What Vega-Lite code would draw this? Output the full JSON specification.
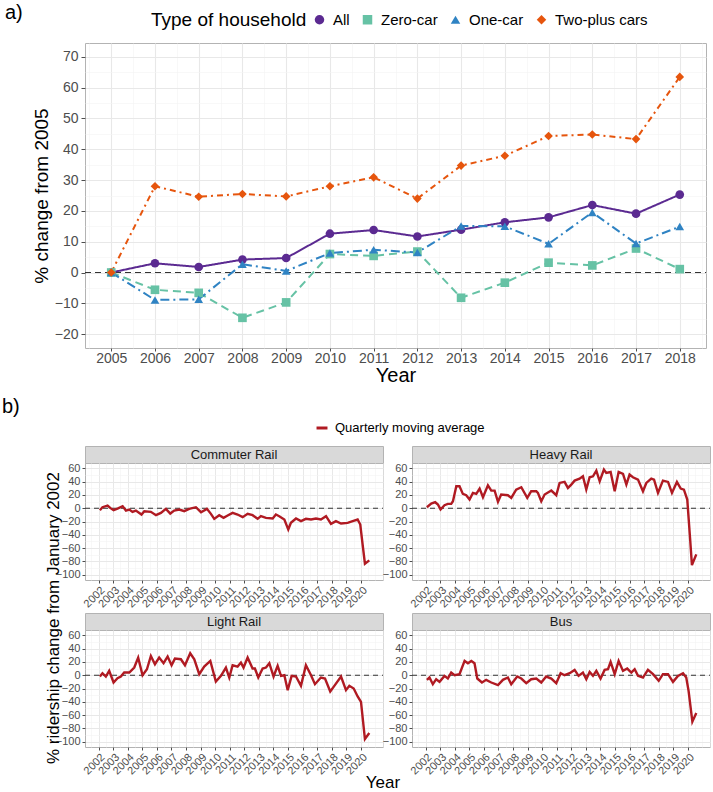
{
  "$schema": "https://vega.github.io/schema/vega-lite/v6.json",
  "padding": {"left": 2, "top": 2, "right": 2, "bottom": 0},
  "config": {
    "font": "Liberation Sans",
    "view": {"stroke": "#B3B3B3", "strokeWidth": 1},
    "axis": {"domain": false, "labelColor": "#4D4D4D", "tickColor": "#4D4D4D", "titleFontWeight": "normal", "titleColor": "#000000", "gridColor": "#E8E8E8", "labelOverlap": false},
    "title": {"fontWeight": "normal", "color": "#000000"},
    "legend": {"labelColor": "#000000", "titleFontWeight": "normal", "titleColor": "#000000"}
  },
  "datasets": {
    "households": [
      {"year": 2005, "type": "All", "value": 0}, {"year": 2006, "type": "All", "value": 3.0}, {"year": 2007, "type": "All", "value": 1.8}, {"year": 2008, "type": "All", "value": 4.2}, {"year": 2009, "type": "All", "value": 4.7}, {"year": 2010, "type": "All", "value": 12.6}, {"year": 2011, "type": "All", "value": 13.8}, {"year": 2012, "type": "All", "value": 11.7}, {"year": 2013, "type": "All", "value": 13.9}, {"year": 2014, "type": "All", "value": 16.3}, {"year": 2015, "type": "All", "value": 17.9}, {"year": 2016, "type": "All", "value": 21.9}, {"year": 2017, "type": "All", "value": 19.1}, {"year": 2018, "type": "All", "value": 25.3},
      {"year": 2005, "type": "Zero-car", "value": 0}, {"year": 2006, "type": "Zero-car", "value": -5.6}, {"year": 2007, "type": "Zero-car", "value": -6.6}, {"year": 2008, "type": "Zero-car", "value": -14.7}, {"year": 2009, "type": "Zero-car", "value": -9.7}, {"year": 2010, "type": "Zero-car", "value": 6.0}, {"year": 2011, "type": "Zero-car", "value": 5.4}, {"year": 2012, "type": "Zero-car", "value": 6.8}, {"year": 2013, "type": "Zero-car", "value": -8.2}, {"year": 2014, "type": "Zero-car", "value": -3.3}, {"year": 2015, "type": "Zero-car", "value": 3.2}, {"year": 2016, "type": "Zero-car", "value": 2.3}, {"year": 2017, "type": "Zero-car", "value": 7.8}, {"year": 2018, "type": "Zero-car", "value": 1.1},
      {"year": 2005, "type": "One-car", "value": 0}, {"year": 2006, "type": "One-car", "value": -8.9}, {"year": 2007, "type": "One-car", "value": -8.7}, {"year": 2008, "type": "One-car", "value": 2.7}, {"year": 2009, "type": "One-car", "value": 0.5}, {"year": 2010, "type": "One-car", "value": 6.3}, {"year": 2011, "type": "One-car", "value": 7.4}, {"year": 2012, "type": "One-car", "value": 6.5}, {"year": 2013, "type": "One-car", "value": 15.1}, {"year": 2014, "type": "One-car", "value": 15.0}, {"year": 2015, "type": "One-car", "value": 9.3}, {"year": 2016, "type": "One-car", "value": 19.5}, {"year": 2017, "type": "One-car", "value": 9.4}, {"year": 2018, "type": "One-car", "value": 14.9},
      {"year": 2005, "type": "Two-plus cars", "value": 0}, {"year": 2006, "type": "Two-plus cars", "value": 28.0}, {"year": 2007, "type": "Two-plus cars", "value": 24.6}, {"year": 2008, "type": "Two-plus cars", "value": 25.5}, {"year": 2009, "type": "Two-plus cars", "value": 24.7}, {"year": 2010, "type": "Two-plus cars", "value": 28.0}, {"year": 2011, "type": "Two-plus cars", "value": 30.9}, {"year": 2012, "type": "Two-plus cars", "value": 24.0}, {"year": 2013, "type": "Two-plus cars", "value": 34.7}, {"year": 2014, "type": "Two-plus cars", "value": 37.9}, {"year": 2015, "type": "Two-plus cars", "value": 44.3}, {"year": 2016, "type": "Two-plus cars", "value": 44.8}, {"year": 2017, "type": "Two-plus cars", "value": 43.3}, {"year": 2018, "type": "Two-plus cars", "value": 63.5}
    ],
    "ridership": [
      {"mode": "Commuter Rail", "t": 2002.09, "v": -3}, {"mode": "Commuter Rail", "t": 2002.27, "v": 1.5}, {"mode": "Commuter Rail", "t": 2002.62, "v": 4}, {"mode": "Commuter Rail", "t": 2002.8, "v": 0.5}, {"mode": "Commuter Rail", "t": 2003.03, "v": -3}, {"mode": "Commuter Rail", "t": 2003.3, "v": -0.5}, {"mode": "Commuter Rail", "t": 2003.65, "v": 3}, {"mode": "Commuter Rail", "t": 2003.88, "v": -3.5}, {"mode": "Commuter Rail", "t": 2004.11, "v": -2}, {"mode": "Commuter Rail", "t": 2004.33, "v": -5.5}, {"mode": "Commuter Rail", "t": 2004.56, "v": -3.5}, {"mode": "Commuter Rail", "t": 2004.95, "v": -9.5}, {"mode": "Commuter Rail", "t": 2005.14, "v": -4.5}, {"mode": "Commuter Rail", "t": 2005.59, "v": -5.5}, {"mode": "Commuter Rail", "t": 2005.94, "v": -10.5}, {"mode": "Commuter Rail", "t": 2006.28, "v": -7}, {"mode": "Commuter Rail", "t": 2006.62, "v": -1}, {"mode": "Commuter Rail", "t": 2006.92, "v": -8}, {"mode": "Commuter Rail", "t": 2007.19, "v": -3.5}, {"mode": "Commuter Rail", "t": 2007.54, "v": -2}, {"mode": "Commuter Rail", "t": 2007.88, "v": -4.5}, {"mode": "Commuter Rail", "t": 2008.22, "v": -1}, {"mode": "Commuter Rail", "t": 2008.68, "v": 1.5}, {"mode": "Commuter Rail", "t": 2009.03, "v": -6}, {"mode": "Commuter Rail", "t": 2009.44, "v": -1}, {"mode": "Commuter Rail", "t": 2009.71, "v": -8.5}, {"mode": "Commuter Rail", "t": 2009.94, "v": -16}, {"mode": "Commuter Rail", "t": 2010.28, "v": -10.5}, {"mode": "Commuter Rail", "t": 2010.58, "v": -14.5}, {"mode": "Commuter Rail", "t": 2010.86, "v": -11}, {"mode": "Commuter Rail", "t": 2011.2, "v": -7}, {"mode": "Commuter Rail", "t": 2011.54, "v": -9.5}, {"mode": "Commuter Rail", "t": 2011.89, "v": -13.5}, {"mode": "Commuter Rail", "t": 2012.23, "v": -8.5}, {"mode": "Commuter Rail", "t": 2012.57, "v": -10.5}, {"mode": "Commuter Rail", "t": 2012.92, "v": -16}, {"mode": "Commuter Rail", "t": 2013.14, "v": -12}, {"mode": "Commuter Rail", "t": 2013.49, "v": -14.5}, {"mode": "Commuter Rail", "t": 2013.95, "v": -15.5}, {"mode": "Commuter Rail", "t": 2014.17, "v": -9.5}, {"mode": "Commuter Rail", "t": 2014.4, "v": -12}, {"mode": "Commuter Rail", "t": 2014.75, "v": -17}, {"mode": "Commuter Rail", "t": 2015.02, "v": -32}, {"mode": "Commuter Rail", "t": 2015.2, "v": -22}, {"mode": "Commuter Rail", "t": 2015.55, "v": -15.5}, {"mode": "Commuter Rail", "t": 2015.89, "v": -19.5}, {"mode": "Commuter Rail", "t": 2016.23, "v": -16}, {"mode": "Commuter Rail", "t": 2016.58, "v": -17}, {"mode": "Commuter Rail", "t": 2016.92, "v": -15.5}, {"mode": "Commuter Rail", "t": 2017.26, "v": -17}, {"mode": "Commuter Rail", "t": 2017.61, "v": -12}, {"mode": "Commuter Rail", "t": 2017.95, "v": -23.5}, {"mode": "Commuter Rail", "t": 2018.29, "v": -19.5}, {"mode": "Commuter Rail", "t": 2018.64, "v": -23}, {"mode": "Commuter Rail", "t": 2019.09, "v": -22}, {"mode": "Commuter Rail", "t": 2019.44, "v": -19.5}, {"mode": "Commuter Rail", "t": 2019.78, "v": -17}, {"mode": "Commuter Rail", "t": 2019.96, "v": -24.5}, {"mode": "Commuter Rail", "t": 2020.12, "v": -54.5}, {"mode": "Commuter Rail", "t": 2020.28, "v": -83.5}, {"mode": "Commuter Rail", "t": 2020.58, "v": -78.5},
      {"mode": "Heavy Rail", "t": 2002.09, "v": 1.5}, {"mode": "Heavy Rail", "t": 2002.39, "v": 7}, {"mode": "Heavy Rail", "t": 2002.66, "v": 9}, {"mode": "Heavy Rail", "t": 2002.85, "v": 5.5}, {"mode": "Heavy Rail", "t": 2003.03, "v": -2}, {"mode": "Heavy Rail", "t": 2003.3, "v": 4.5}, {"mode": "Heavy Rail", "t": 2003.53, "v": 6.5}, {"mode": "Heavy Rail", "t": 2003.76, "v": 6.5}, {"mode": "Heavy Rail", "t": 2003.88, "v": 10.5}, {"mode": "Heavy Rail", "t": 2004.11, "v": 33}, {"mode": "Heavy Rail", "t": 2004.33, "v": 33}, {"mode": "Heavy Rail", "t": 2004.56, "v": 21.5}, {"mode": "Heavy Rail", "t": 2004.79, "v": 19.5}, {"mode": "Heavy Rail", "t": 2005.02, "v": 13}, {"mode": "Heavy Rail", "t": 2005.25, "v": 23}, {"mode": "Heavy Rail", "t": 2005.48, "v": 21.5}, {"mode": "Heavy Rail", "t": 2005.71, "v": 29.5}, {"mode": "Heavy Rail", "t": 2005.94, "v": 16.5}, {"mode": "Heavy Rail", "t": 2006.28, "v": 34.5}, {"mode": "Heavy Rail", "t": 2006.51, "v": 26.5}, {"mode": "Heavy Rail", "t": 2006.74, "v": 26.5}, {"mode": "Heavy Rail", "t": 2006.97, "v": 9.5}, {"mode": "Heavy Rail", "t": 2007.19, "v": 20.5}, {"mode": "Heavy Rail", "t": 2007.65, "v": 19.5}, {"mode": "Heavy Rail", "t": 2007.88, "v": 15.5}, {"mode": "Heavy Rail", "t": 2008.22, "v": 28}, {"mode": "Heavy Rail", "t": 2008.57, "v": 31.5}, {"mode": "Heavy Rail", "t": 2008.98, "v": 15.5}, {"mode": "Heavy Rail", "t": 2009.25, "v": 25.5}, {"mode": "Heavy Rail", "t": 2009.6, "v": 25.5}, {"mode": "Heavy Rail", "t": 2009.71, "v": 23}, {"mode": "Heavy Rail", "t": 2009.94, "v": 10.5}, {"mode": "Heavy Rail", "t": 2010.17, "v": 20.5}, {"mode": "Heavy Rail", "t": 2010.63, "v": 26.5}, {"mode": "Heavy Rail", "t": 2010.97, "v": 19.5}, {"mode": "Heavy Rail", "t": 2011.2, "v": 38}, {"mode": "Heavy Rail", "t": 2011.54, "v": 39.5}, {"mode": "Heavy Rail", "t": 2011.77, "v": 30.5}, {"mode": "Heavy Rail", "t": 2012.0, "v": 35.5}, {"mode": "Heavy Rail", "t": 2012.23, "v": 41.5}, {"mode": "Heavy Rail", "t": 2012.57, "v": 44.5}, {"mode": "Heavy Rail", "t": 2012.8, "v": 48}, {"mode": "Heavy Rail", "t": 2013.03, "v": 28}, {"mode": "Heavy Rail", "t": 2013.26, "v": 46.5}, {"mode": "Heavy Rail", "t": 2013.49, "v": 48}, {"mode": "Heavy Rail", "t": 2013.72, "v": 56.5}, {"mode": "Heavy Rail", "t": 2013.95, "v": 40.5}, {"mode": "Heavy Rail", "t": 2014.24, "v": 58}, {"mode": "Heavy Rail", "t": 2014.4, "v": 53}, {"mode": "Heavy Rail", "t": 2014.7, "v": 54.5}, {"mode": "Heavy Rail", "t": 2014.98, "v": 25.5}, {"mode": "Heavy Rail", "t": 2015.25, "v": 54.5}, {"mode": "Heavy Rail", "t": 2015.55, "v": 51.5}, {"mode": "Heavy Rail", "t": 2015.78, "v": 35.5}, {"mode": "Heavy Rail", "t": 2016.0, "v": 50.5}, {"mode": "Heavy Rail", "t": 2016.23, "v": 46.5}, {"mode": "Heavy Rail", "t": 2016.58, "v": 43}, {"mode": "Heavy Rail", "t": 2016.92, "v": 25.5}, {"mode": "Heavy Rail", "t": 2017.15, "v": 38}, {"mode": "Heavy Rail", "t": 2017.49, "v": 44.5}, {"mode": "Heavy Rail", "t": 2017.68, "v": 43}, {"mode": "Heavy Rail", "t": 2017.95, "v": 23}, {"mode": "Heavy Rail", "t": 2018.29, "v": 41.5}, {"mode": "Heavy Rail", "t": 2018.64, "v": 39.5}, {"mode": "Heavy Rail", "t": 2018.91, "v": 23}, {"mode": "Heavy Rail", "t": 2019.25, "v": 39.5}, {"mode": "Heavy Rail", "t": 2019.51, "v": 29.5}, {"mode": "Heavy Rail", "t": 2019.73, "v": 28}, {"mode": "Heavy Rail", "t": 2019.96, "v": 13}, {"mode": "Heavy Rail", "t": 2020.15, "v": -44.5}, {"mode": "Heavy Rail", "t": 2020.28, "v": -85.5}, {"mode": "Heavy Rail", "t": 2020.58, "v": -69.5},
      {"mode": "Light Rail", "t": 2002.09, "v": -2}, {"mode": "Light Rail", "t": 2002.27, "v": 3}, {"mode": "Light Rail", "t": 2002.5, "v": -2}, {"mode": "Light Rail", "t": 2002.73, "v": 6.5}, {"mode": "Light Rail", "t": 2003.03, "v": -11}, {"mode": "Light Rail", "t": 2003.3, "v": -4.5}, {"mode": "Light Rail", "t": 2003.53, "v": -2}, {"mode": "Light Rail", "t": 2003.76, "v": 4}, {"mode": "Light Rail", "t": 2004.11, "v": 4}, {"mode": "Light Rail", "t": 2004.45, "v": 11.5}, {"mode": "Light Rail", "t": 2004.72, "v": 26.5}, {"mode": "Light Rail", "t": 2005.02, "v": 0}, {"mode": "Light Rail", "t": 2005.32, "v": 9}, {"mode": "Light Rail", "t": 2005.59, "v": 29}, {"mode": "Light Rail", "t": 2005.87, "v": 16.5}, {"mode": "Light Rail", "t": 2006.16, "v": 26.5}, {"mode": "Light Rail", "t": 2006.46, "v": 18}, {"mode": "Light Rail", "t": 2006.74, "v": 28}, {"mode": "Light Rail", "t": 2007.01, "v": 15}, {"mode": "Light Rail", "t": 2007.24, "v": 25}, {"mode": "Light Rail", "t": 2007.65, "v": 24}, {"mode": "Light Rail", "t": 2007.93, "v": 15}, {"mode": "Light Rail", "t": 2008.29, "v": 33}, {"mode": "Light Rail", "t": 2008.57, "v": 24}, {"mode": "Light Rail", "t": 2008.91, "v": 1.5}, {"mode": "Light Rail", "t": 2009.25, "v": 13}, {"mode": "Light Rail", "t": 2009.67, "v": 21.5}, {"mode": "Light Rail", "t": 2010.05, "v": -9.5}, {"mode": "Light Rail", "t": 2010.4, "v": -1}, {"mode": "Light Rail", "t": 2010.74, "v": 11.5}, {"mode": "Light Rail", "t": 2010.97, "v": -3.5}, {"mode": "Light Rail", "t": 2011.2, "v": 15}, {"mode": "Light Rail", "t": 2011.54, "v": 13}, {"mode": "Light Rail", "t": 2011.77, "v": 19}, {"mode": "Light Rail", "t": 2011.95, "v": 11.5}, {"mode": "Light Rail", "t": 2012.23, "v": 26.5}, {"mode": "Light Rail", "t": 2012.57, "v": 10}, {"mode": "Light Rail", "t": 2012.73, "v": 10}, {"mode": "Light Rail", "t": 2012.96, "v": -3.5}, {"mode": "Light Rail", "t": 2013.26, "v": 10}, {"mode": "Light Rail", "t": 2013.49, "v": 11.5}, {"mode": "Light Rail", "t": 2013.72, "v": 18}, {"mode": "Light Rail", "t": 2014.01, "v": -2}, {"mode": "Light Rail", "t": 2014.29, "v": 14}, {"mode": "Light Rail", "t": 2014.52, "v": -1}, {"mode": "Light Rail", "t": 2014.75, "v": 0}, {"mode": "Light Rail", "t": 2014.98, "v": -22.5}, {"mode": "Light Rail", "t": 2015.25, "v": -1}, {"mode": "Light Rail", "t": 2015.55, "v": -2}, {"mode": "Light Rail", "t": 2015.89, "v": -16}, {"mode": "Light Rail", "t": 2016.23, "v": 15}, {"mode": "Light Rail", "t": 2016.58, "v": 0}, {"mode": "Light Rail", "t": 2016.85, "v": -13.5}, {"mode": "Light Rail", "t": 2017.26, "v": -3.5}, {"mode": "Light Rail", "t": 2017.54, "v": -5}, {"mode": "Light Rail", "t": 2017.9, "v": -24.5}, {"mode": "Light Rail", "t": 2018.18, "v": -16}, {"mode": "Light Rail", "t": 2018.64, "v": -2}, {"mode": "Light Rail", "t": 2018.98, "v": -22.5}, {"mode": "Light Rail", "t": 2019.21, "v": -16}, {"mode": "Light Rail", "t": 2019.51, "v": -20}, {"mode": "Light Rail", "t": 2019.78, "v": -32}, {"mode": "Light Rail", "t": 2020.01, "v": -40}, {"mode": "Light Rail", "t": 2020.28, "v": -96}, {"mode": "Light Rail", "t": 2020.58, "v": -87},
      {"mode": "Bus", "t": 2002.09, "v": -7}, {"mode": "Bus", "t": 2002.27, "v": -3.5}, {"mode": "Bus", "t": 2002.5, "v": -13.5}, {"mode": "Bus", "t": 2002.73, "v": -6}, {"mode": "Bus", "t": 2002.96, "v": -10}, {"mode": "Bus", "t": 2003.3, "v": -1}, {"mode": "Bus", "t": 2003.53, "v": -5}, {"mode": "Bus", "t": 2003.76, "v": 4}, {"mode": "Bus", "t": 2003.99, "v": 0}, {"mode": "Bus", "t": 2004.33, "v": 1.5}, {"mode": "Bus", "t": 2004.68, "v": 21.5}, {"mode": "Bus", "t": 2004.91, "v": 18}, {"mode": "Bus", "t": 2005.14, "v": 21.5}, {"mode": "Bus", "t": 2005.36, "v": 18}, {"mode": "Bus", "t": 2005.55, "v": -5}, {"mode": "Bus", "t": 2005.87, "v": -11}, {"mode": "Bus", "t": 2006.16, "v": -7}, {"mode": "Bus", "t": 2006.51, "v": -11}, {"mode": "Bus", "t": 2006.97, "v": -15}, {"mode": "Bus", "t": 2007.31, "v": -7}, {"mode": "Bus", "t": 2007.65, "v": -3.5}, {"mode": "Bus", "t": 2007.88, "v": -13.5}, {"mode": "Bus", "t": 2008.29, "v": -2}, {"mode": "Bus", "t": 2008.57, "v": -5}, {"mode": "Bus", "t": 2008.91, "v": -12}, {"mode": "Bus", "t": 2009.25, "v": -6}, {"mode": "Bus", "t": 2009.6, "v": -5}, {"mode": "Bus", "t": 2009.94, "v": -11}, {"mode": "Bus", "t": 2010.28, "v": -2}, {"mode": "Bus", "t": 2010.63, "v": -5}, {"mode": "Bus", "t": 2010.97, "v": -12}, {"mode": "Bus", "t": 2011.27, "v": 3}, {"mode": "Bus", "t": 2011.54, "v": 0}, {"mode": "Bus", "t": 2011.89, "v": 3}, {"mode": "Bus", "t": 2012.23, "v": 8}, {"mode": "Bus", "t": 2012.5, "v": -1}, {"mode": "Bus", "t": 2012.8, "v": 4}, {"mode": "Bus", "t": 2013.03, "v": -6}, {"mode": "Bus", "t": 2013.26, "v": 5}, {"mode": "Bus", "t": 2013.49, "v": -1}, {"mode": "Bus", "t": 2013.72, "v": 6.5}, {"mode": "Bus", "t": 2014.01, "v": -5}, {"mode": "Bus", "t": 2014.29, "v": 8}, {"mode": "Bus", "t": 2014.52, "v": 9}, {"mode": "Bus", "t": 2014.7, "v": 20}, {"mode": "Bus", "t": 2014.98, "v": 1.5}, {"mode": "Bus", "t": 2015.25, "v": 21.5}, {"mode": "Bus", "t": 2015.55, "v": 6.5}, {"mode": "Bus", "t": 2015.84, "v": 10}, {"mode": "Bus", "t": 2016.12, "v": 4}, {"mode": "Bus", "t": 2016.35, "v": 9}, {"mode": "Bus", "t": 2016.58, "v": -1}, {"mode": "Bus", "t": 2016.92, "v": -3.5}, {"mode": "Bus", "t": 2017.26, "v": 8}, {"mode": "Bus", "t": 2017.61, "v": 1.5}, {"mode": "Bus", "t": 2018.0, "v": -8.5}, {"mode": "Bus", "t": 2018.29, "v": 1.5}, {"mode": "Bus", "t": 2018.64, "v": 1.5}, {"mode": "Bus", "t": 2018.98, "v": -10}, {"mode": "Bus", "t": 2019.32, "v": -1}, {"mode": "Bus", "t": 2019.67, "v": 3}, {"mode": "Bus", "t": 2019.89, "v": -3.5}, {"mode": "Bus", "t": 2020.05, "v": -23.5}, {"mode": "Bus", "t": 2020.31, "v": -70}, {"mode": "Bus", "t": 2020.58, "v": -57}
    ]
  },
  "spacing": 11,
  "resolve": {"scale": {"color": "independent", "shape": "independent", "strokeDash": "independent", "stroke": "independent"}, "legend": {"color": "independent", "shape": "independent", "strokeDash": "independent", "stroke": "independent"}},
  "vconcat": [
    {
      "title": {"text": "a)", "anchor": "start", "frame": "group", "dx": -80, "dy": 15, "fontSize": 20},
      "width": 621,
      "height": 305,
      "resolve": {"axis": {"x": "independent", "y": "independent"}},
      "layer": [
        {
          "data": {"values": [{}]},
          "mark": {"type": "rule", "strokeDash": [6, 4], "color": "#333333", "strokeWidth": 1.2},
          "encoding": {
            "x": {"datum": 2004.4, "type": "quantitative", "scale": {"domain": [2004.4, 2018.6], "nice": false, "zero": false},
              "axis": {"orient": "top", "title": null, "labels": false, "ticks": false, "minExtent": 0, "maxExtent": 0, "offset": 0, "grid": true, "gridColor": "#F3F3F3", "gridWidth": 0.6, "values": [2004.5, 2005.5, 2006.5, 2007.5, 2008.5, 2009.5, 2010.5, 2011.5, 2012.5, 2013.5, 2014.5, 2015.5, 2016.5, 2017.5, 2018.5]}},
            "x2": {"datum": 2018.6},
            "y": {"datum": 0, "type": "quantitative", "scale": {"domain": [-24.5, 74.5], "nice": false},
              "axis": {"orient": "right", "title": null, "labels": false, "ticks": false, "minExtent": 0, "maxExtent": 0, "offset": 0, "grid": true, "gridColor": "#F3F3F3", "gridWidth": 0.6, "values": [-15, -5, 5, 15, 25, 35, 45, 55, 65]}}
          }
        },
        {
          "data": {"name": "households"},
          "mark": {"type": "line", "strokeWidth": 2},
          "encoding": {
            "x": {"field": "year", "type": "quantitative", "scale": {"domain": [2004.4, 2018.6], "nice": false, "zero": false},
              "axis": {"orient": "bottom", "title": "Year", "titleFontSize": 20, "titlePadding": 0, "labelFontSize": 14, "labelPadding": 0, "tickSize": 3, "labelOverlap": false, "format": "d", "grid": true, "gridWidth": 1.1,
                "values": [2005, 2006, 2007, 2008, 2009, 2010, 2011, 2012, 2013, 2014, 2015, 2016, 2017, 2018]}},
            "y": {"field": "value", "type": "quantitative", "scale": {"domain": [-24.5, 74.5], "nice": false},
              "axis": {"orient": "left", "title": "% change from 2005", "titleFontSize": 19, "titlePadding": 3, "labelFontSize": 14, "labelPadding": 3, "tickSize": 4, "labelOverlap": false, "grid": true, "gridWidth": 1.1,
                "values": [-20, -10, 0, 10, 20, 30, 40, 50, 60, 70]}},
            "stroke": {"field": "type", "type": "nominal", "scale": {"domain": ["Two-plus cars", "One-car", "Zero-car", "All"], "range": ["#E6550D", "#2F83C3", "#66C2A5", "#5B2A91"]}, "legend": null},
            "strokeDash": {"field": "type", "type": "nominal", "scale": {"domain": ["Two-plus cars", "One-car", "Zero-car", "All"], "range": [[6, 4, 2, 4], [9, 4, 2, 4], [8, 5], [1, 0]]}, "legend": null}
          }
        },
        {
          "data": {"name": "households"},
          "mark": {"type": "point", "filled": true, "size": 75, "opacity": 1},
          "encoding": {
            "x": {"field": "year", "type": "quantitative", "axis": null},
            "y": {"field": "value", "type": "quantitative", "axis": null},
            "color": {"field": "type", "type": "nominal", "scale": {"domain": ["All", "Zero-car", "One-car", "Two-plus cars"], "range": ["#5B2A91", "#66C2A5", "#2F83C3", "#E6550D"]},
              "legend": {"orient": "none", "legendX": 66, "legendY": -31, "direction": "horizontal", "title": "Type of household", "titleOrient": "left", "titleFontSize": 19, "labelFontSize": 15, "symbolSize": 90, "columnPadding": 10, "labelOffset": 6}},
            "shape": {"field": "type", "type": "nominal", "scale": {"domain": ["All", "Zero-car", "One-car", "Two-plus cars"], "range": ["circle", "square", "triangle-up", "diamond"]},
              "legend": {"orient": "none", "legendX": 66, "legendY": -31, "direction": "horizontal", "title": "Type of household", "titleOrient": "left", "titleFontSize": 19, "labelFontSize": 15, "symbolSize": 90, "columnPadding": 10, "labelOffset": 6}}
          }
        }
      ]
    },
    {
      "title": {"text": "b)", "anchor": "start", "frame": "group", "dx": -83, "fontSize": 20},
      "vconcat": [
        {
          "title": {"text": "% ridership change from January 2002", "orient": "left", "anchor": "middle", "fontSize": 17, "offset": -8},
          "vconcat": [
            {
              "title": {"text": "Year", "orient": "bottom", "anchor": "middle", "fontSize": 17, "offset": -2},
              "spacing": 2,
              "vconcat": [
                {
                  "spacing": -4,
                  "hconcat": [
                    {
                      "bounds": "flush", "spacing": 0,
                      "vconcat": [
                        {"width": 298, "height": 17, "view": {"fill": "#D9D9D9", "stroke": "#B3B3B3"}, "data": {"values": [{"panel": "Commuter Rail"}]}, "mark": {"type": "text", "fontSize": 13, "color": "#1A1A1A"}, "encoding": {"text": {"field": "panel"}}},
                        {"width": 298, "height": 117, "resolve": {"axis": {"x": "independent", "y": "independent"}}, "layer": [
                          {"data": {"values": [{}]}, "mark": {"type": "rule", "strokeDash": [5, 4], "color": "#333333", "strokeWidth": 1.1}, "encoding": {
                            "x": {"datum": 2001.07, "type": "quantitative", "scale": {"domain": [2001.07, 2021.52], "nice": false, "zero": false}, "axis": {"orient": "top", "title": null, "labels": false, "ticks": false, "minExtent": 0, "maxExtent": 0, "offset": 0, "grid": true, "gridColor": "#F3F3F3", "gridWidth": 0.6, "values": [2001.5, 2002.5, 2003.5, 2004.5, 2005.5, 2006.5, 2007.5, 2008.5, 2009.5, 2010.5, 2011.5, 2012.5, 2013.5, 2014.5, 2015.5, 2016.5, 2017.5, 2018.5, 2019.5, 2020.5, 2021, 2021.5]}},
                            "x2": {"datum": 2021.52},
                            "y": {"datum": 0, "type": "quantitative", "scale": {"domain": [-108, 68], "nice": false}, "axis": {"orient": "right", "title": null, "labels": false, "ticks": false, "minExtent": 0, "maxExtent": 0, "offset": 0, "grid": true, "gridColor": "#F3F3F3", "gridWidth": 0.6, "values": [-90, -70, -50, -30, -10, 10, 30, 50]}}}},
                          {"data": {"name": "ridership"}, "transform": [{"filter": "datum.mode === 'Commuter Rail'"}], "mark": {"type": "line", "strokeWidth": 2.4},
                            "encoding": {
                              "x": {"field": "t", "type": "quantitative", "scale": {"domain": [2001.07, 2021.52], "nice": false, "zero": false}, "axis": {"orient": "bottom", "title": null, "labelFontSize": 11, "labelAngle": -45, "labelPadding": 1, "tickSize": 3, "labelOverlap": false, "labelSeparation": -40, "format": "d", "grid": true, "values": [2002, 2003, 2004, 2005, 2006, 2007, 2008, 2009, 2010, 2011, 2012, 2013, 2014, 2015, 2016, 2017, 2018, 2019, 2020]}},
                              "y": {"field": "v", "type": "quantitative", "scale": {"domain": [-108, 68], "nice": false}, "axis": {"orient": "left", "title": null, "labelFontSize": 11, "labelPadding": 2, "tickSize": 3, "labelOverlap": false, "grid": true, "values": [-100, -80, -60, -40, -20, 0, 20, 40, 60]}},
                              "color": {"datum": "Quarterly moving average", "scale": {"range": ["#B01A22"]}, "legend": {"orient": "none", "legendX": 230, "legendY": -25, "title": null, "labelFontSize": 13, "symbolType": "stroke", "symbolStrokeWidth": 3, "symbolSize": 120, "labelOffset": 6}}
                            }}
                        ]}
                      ]
                    },
                    {
                      "bounds": "flush", "spacing": 0,
                      "vconcat": [
                        {"width": 298, "height": 17, "view": {"fill": "#D9D9D9", "stroke": "#B3B3B3"}, "data": {"values": [{"panel": "Heavy Rail"}]}, "mark": {"type": "text", "fontSize": 13, "color": "#1A1A1A"}, "encoding": {"text": {"field": "panel"}}},
                        {"width": 298, "height": 117, "resolve": {"axis": {"x": "independent", "y": "independent"}}, "layer": [
                          {"data": {"values": [{}]}, "mark": {"type": "rule", "strokeDash": [5, 4], "color": "#333333", "strokeWidth": 1.1}, "encoding": {
                            "x": {"datum": 2001.07, "type": "quantitative", "scale": {"domain": [2001.07, 2021.52], "nice": false, "zero": false}, "axis": {"orient": "top", "title": null, "labels": false, "ticks": false, "minExtent": 0, "maxExtent": 0, "offset": 0, "grid": true, "gridColor": "#F3F3F3", "gridWidth": 0.6, "values": [2001.5, 2002.5, 2003.5, 2004.5, 2005.5, 2006.5, 2007.5, 2008.5, 2009.5, 2010.5, 2011.5, 2012.5, 2013.5, 2014.5, 2015.5, 2016.5, 2017.5, 2018.5, 2019.5, 2020.5, 2021, 2021.5]}},
                            "x2": {"datum": 2021.52},
                            "y": {"datum": 0, "type": "quantitative", "scale": {"domain": [-108, 68], "nice": false}, "axis": {"orient": "right", "title": null, "labels": false, "ticks": false, "minExtent": 0, "maxExtent": 0, "offset": 0, "grid": true, "gridColor": "#F3F3F3", "gridWidth": 0.6, "values": [-90, -70, -50, -30, -10, 10, 30, 50]}}}},
                          {"data": {"name": "ridership"}, "transform": [{"filter": "datum.mode === 'Heavy Rail'"}], "mark": {"type": "line", "strokeWidth": 2.4},
                            "encoding": {
                              "x": {"field": "t", "type": "quantitative", "scale": {"domain": [2001.07, 2021.52], "nice": false, "zero": false}, "axis": {"orient": "bottom", "title": null, "labelFontSize": 11, "labelAngle": -45, "labelPadding": 1, "tickSize": 3, "labelOverlap": false, "labelSeparation": -40, "format": "d", "grid": true, "values": [2002, 2003, 2004, 2005, 2006, 2007, 2008, 2009, 2010, 2011, 2012, 2013, 2014, 2015, 2016, 2017, 2018, 2019, 2020]}},
                              "y": {"field": "v", "type": "quantitative", "scale": {"domain": [-108, 68], "nice": false}, "axis": {"orient": "left", "title": null, "labelFontSize": 11, "labelPadding": 2, "tickSize": 3, "labelOverlap": false, "grid": true, "values": [-100, -80, -60, -40, -20, 0, 20, 40, 60]}},
                              "color": {"datum": "Quarterly moving average", "scale": {"range": ["#B01A22"]}, "legend": {"orient": "none", "legendX": 230, "legendY": -25, "title": null, "labelFontSize": 13, "symbolType": "stroke", "symbolStrokeWidth": 3, "symbolSize": 120, "labelOffset": 6}}
                            }}
                        ]}
                      ]
                    }
                  ]
                },
                {
                  "spacing": -4,
                  "hconcat": [
                    {
                      "bounds": "flush", "spacing": 0,
                      "vconcat": [
                        {"width": 298, "height": 17, "view": {"fill": "#D9D9D9", "stroke": "#B3B3B3"}, "data": {"values": [{"panel": "Light Rail"}]}, "mark": {"type": "text", "fontSize": 13, "color": "#1A1A1A"}, "encoding": {"text": {"field": "panel"}}},
                        {"width": 298, "height": 117, "resolve": {"axis": {"x": "independent", "y": "independent"}}, "layer": [
                          {"data": {"values": [{}]}, "mark": {"type": "rule", "strokeDash": [5, 4], "color": "#333333", "strokeWidth": 1.1}, "encoding": {
                            "x": {"datum": 2001.07, "type": "quantitative", "scale": {"domain": [2001.07, 2021.52], "nice": false, "zero": false}, "axis": {"orient": "top", "title": null, "labels": false, "ticks": false, "minExtent": 0, "maxExtent": 0, "offset": 0, "grid": true, "gridColor": "#F3F3F3", "gridWidth": 0.6, "values": [2001.5, 2002.5, 2003.5, 2004.5, 2005.5, 2006.5, 2007.5, 2008.5, 2009.5, 2010.5, 2011.5, 2012.5, 2013.5, 2014.5, 2015.5, 2016.5, 2017.5, 2018.5, 2019.5, 2020.5, 2021, 2021.5]}},
                            "x2": {"datum": 2021.52},
                            "y": {"datum": 0, "type": "quantitative", "scale": {"domain": [-108, 68], "nice": false}, "axis": {"orient": "right", "title": null, "labels": false, "ticks": false, "minExtent": 0, "maxExtent": 0, "offset": 0, "grid": true, "gridColor": "#F3F3F3", "gridWidth": 0.6, "values": [-90, -70, -50, -30, -10, 10, 30, 50]}}}},
                          {"data": {"name": "ridership"}, "transform": [{"filter": "datum.mode === 'Light Rail'"}], "mark": {"type": "line", "strokeWidth": 2.4},
                            "encoding": {
                              "x": {"field": "t", "type": "quantitative", "scale": {"domain": [2001.07, 2021.52], "nice": false, "zero": false}, "axis": {"orient": "bottom", "title": null, "labelFontSize": 11, "labelAngle": -45, "labelPadding": 1, "tickSize": 3, "labelOverlap": false, "labelSeparation": -40, "format": "d", "grid": true, "values": [2002, 2003, 2004, 2005, 2006, 2007, 2008, 2009, 2010, 2011, 2012, 2013, 2014, 2015, 2016, 2017, 2018, 2019, 2020]}},
                              "y": {"field": "v", "type": "quantitative", "scale": {"domain": [-108, 68], "nice": false}, "axis": {"orient": "left", "title": null, "labelFontSize": 11, "labelPadding": 2, "tickSize": 3, "labelOverlap": false, "grid": true, "values": [-100, -80, -60, -40, -20, 0, 20, 40, 60]}},
                              "color": {"datum": "Quarterly moving average", "scale": {"range": ["#B01A22"]}, "legend": {"orient": "none", "legendX": 230, "legendY": -25, "title": null, "labelFontSize": 13, "symbolType": "stroke", "symbolStrokeWidth": 3, "symbolSize": 120, "labelOffset": 6}}
                            }}
                        ]}
                      ]
                    },
                    {
                      "bounds": "flush", "spacing": 0,
                      "vconcat": [
                        {"width": 298, "height": 17, "view": {"fill": "#D9D9D9", "stroke": "#B3B3B3"}, "data": {"values": [{"panel": "Bus"}]}, "mark": {"type": "text", "fontSize": 13, "color": "#1A1A1A"}, "encoding": {"text": {"field": "panel"}}},
                        {"width": 298, "height": 117, "resolve": {"axis": {"x": "independent", "y": "independent"}}, "layer": [
                          {"data": {"values": [{}]}, "mark": {"type": "rule", "strokeDash": [5, 4], "color": "#333333", "strokeWidth": 1.1}, "encoding": {
                            "x": {"datum": 2001.07, "type": "quantitative", "scale": {"domain": [2001.07, 2021.52], "nice": false, "zero": false}, "axis": {"orient": "top", "title": null, "labels": false, "ticks": false, "minExtent": 0, "maxExtent": 0, "offset": 0, "grid": true, "gridColor": "#F3F3F3", "gridWidth": 0.6, "values": [2001.5, 2002.5, 2003.5, 2004.5, 2005.5, 2006.5, 2007.5, 2008.5, 2009.5, 2010.5, 2011.5, 2012.5, 2013.5, 2014.5, 2015.5, 2016.5, 2017.5, 2018.5, 2019.5, 2020.5, 2021, 2021.5]}},
                            "x2": {"datum": 2021.52},
                            "y": {"datum": 0, "type": "quantitative", "scale": {"domain": [-108, 68], "nice": false}, "axis": {"orient": "right", "title": null, "labels": false, "ticks": false, "minExtent": 0, "maxExtent": 0, "offset": 0, "grid": true, "gridColor": "#F3F3F3", "gridWidth": 0.6, "values": [-90, -70, -50, -30, -10, 10, 30, 50]}}}},
                          {"data": {"name": "ridership"}, "transform": [{"filter": "datum.mode === 'Bus'"}], "mark": {"type": "line", "strokeWidth": 2.4},
                            "encoding": {
                              "x": {"field": "t", "type": "quantitative", "scale": {"domain": [2001.07, 2021.52], "nice": false, "zero": false}, "axis": {"orient": "bottom", "title": null, "labelFontSize": 11, "labelAngle": -45, "labelPadding": 1, "tickSize": 3, "labelOverlap": false, "labelSeparation": -40, "format": "d", "grid": true, "values": [2002, 2003, 2004, 2005, 2006, 2007, 2008, 2009, 2010, 2011, 2012, 2013, 2014, 2015, 2016, 2017, 2018, 2019, 2020]}},
                              "y": {"field": "v", "type": "quantitative", "scale": {"domain": [-108, 68], "nice": false}, "axis": {"orient": "left", "title": null, "labelFontSize": 11, "labelPadding": 2, "tickSize": 3, "labelOverlap": false, "grid": true, "values": [-100, -80, -60, -40, -20, 0, 20, 40, 60]}},
                              "color": {"datum": "Quarterly moving average", "scale": {"range": ["#B01A22"]}, "legend": {"orient": "none", "legendX": 230, "legendY": -25, "title": null, "labelFontSize": 13, "symbolType": "stroke", "symbolStrokeWidth": 3, "symbolSize": 120, "labelOffset": 6}}
                            }}
                        ]}
                      ]
                    }
                  ]
                }
              ]
            }
          ]
        }
      ]
    }
  ]
}
